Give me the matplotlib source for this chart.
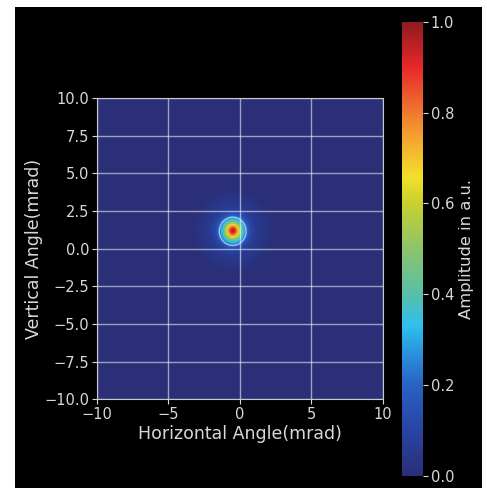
"""
Far-field beam profile: amplitude map vs horizontal/vertical angle.
"""

import numpy as np
import matplotlib
matplotlib.use("Agg")
import matplotlib.pyplot as plt
from matplotlib.colors import LinearSegmentedColormap
from matplotlib.patches import Rectangle

# Beam centre (mrad)
BEAM_CENTER = (-0.5, 1.15)

# Radial amplitude profile (radius in mrad, amplitude a.u.)
RADIUS = [0.0, 0.12, 0.25, 0.38, 0.5, 0.62, 0.75, 0.88, 1.0, 1.2, 1.6, 2.2, 3.0, 15.0]
AMPLITUDE = [1.0, 0.93, 0.82, 0.7, 0.56, 0.44, 0.34, 0.26, 0.2, 0.12, 0.06, 0.03, 0.0, 0.0]

X_TICKS = [-10, -5, 0, 5, 10]
Y_TICKS = [-10.0, -7.5, -5.0, -2.5, 0.0, 2.5, 5.0, 7.5, 10.0]
CBAR_TICKS = [0.0, 0.2, 0.4, 0.6, 0.8, 1.0]

# Jet-like map, washed out as in the source image
CMAP_POS = [0.0, 0.1, 0.2, 0.28, 0.33, 0.4, 0.5, 0.6, 0.66, 0.75, 0.82, 0.9, 1.0]
CMAP_COLORS = ["#2a2f78", "#2844a4", "#2a62c4", "#2a9ade", "#2ec0ec", "#58bfa8",
               "#8cc46a", "#c8d030", "#f2e02a", "#f4a030", "#ee6a2e", "#e8282a",
               "#8e1c20"]

TEXT_COLOR = "#d8d8d8"

cmap = LinearSegmentedColormap.from_list("beam", list(zip(CMAP_POS, CMAP_COLORS)))

# Build the amplitude map from the radial profile
n = 200
xs = np.linspace(-10, 10, n)
ys = np.linspace(-10, 10, n)
gx, gy = np.meshgrid(xs, ys)
r = np.hypot(gx - BEAM_CENTER[0], gy - BEAM_CENTER[1])
field = np.interp(r, RADIUS, AMPLITUDE)

fig = plt.figure(figsize=(4.87, 4.88), dpi=100, facecolor="white")
# black panel (the source has a thin white margin at left, top and right)
fig.patches.append(Rectangle((15 / 487, 0), 467 / 487, 481 / 488,
                             transform=fig.transFigure, facecolor="black",
                             edgecolor="none", zorder=-10))

ax = fig.add_axes([0.199, 0.182, 0.587, 0.617])
im = ax.imshow(field, extent=[-10, 10, -10, 10], origin="lower", cmap=cmap,
               vmin=0, vmax=1, aspect="auto")
ax.contour(xs, ys, field, levels=[0.23], colors="white", linewidths=1.0, alpha=0.55)

ax.set_xticks(X_TICKS)
ax.set_yticks(Y_TICKS)
ax.set_yticklabels([f"{v:.1f}".replace("-", "\u2212") for v in Y_TICKS])
ax.grid(True, color="white", alpha=0.55, linewidth=1.0)
ax.set_xlabel("Horizontal Angle(mrad)", color=TEXT_COLOR, fontsize=12.5, labelpad=2)
ax.set_ylabel("Vertical Angle(mrad)", color=TEXT_COLOR, fontsize=12.5, labelpad=1)
ax.tick_params(colors=TEXT_COLOR, labelsize=10.5, pad=2)
for s in ax.spines.values():
    s.set_color("#c8c8c8")
    s.set_linewidth(0.8)

cax = fig.add_axes([0.825, 0.025, 0.044, 0.93])
cb = fig.colorbar(im, cax=cax, ticks=CBAR_TICKS)
cb.outline.set_visible(False)
cb.ax.tick_params(colors=TEXT_COLOR, labelsize=10.5, pad=2)
cb.set_label("Amplitude in a.u.", color=TEXT_COLOR, fontsize=11.8, labelpad=3)

fig.savefig("out.png", dpi=100, facecolor=fig.get_facecolor())
